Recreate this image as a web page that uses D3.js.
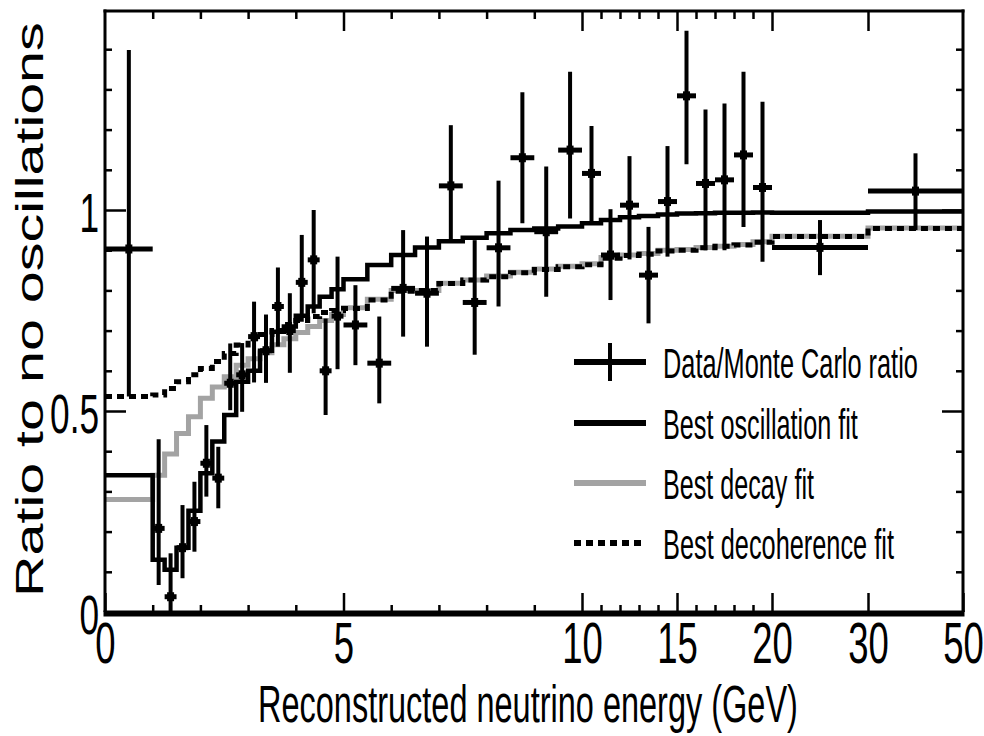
<!DOCTYPE html>
<html>
<head>
<meta charset="utf-8">
<script src="https://cdn.jsdelivr.net/npm/d3@7"></script>
<style>
  html, body { margin: 0; padding: 0; background: #fff; }
  svg { display: block; font-family: "Liberation Sans", Arial, Helvetica, sans-serif; }
</style>
</head>
<body>
<div id="chart"></div>
<script>
// variable energy binning (GeV)
const binEdges = [0, 1, 1.25, 1.5, 1.75, 2, 2.25, 2.5, 2.75, 3, 3.25, 3.5, 3.75, 4, 4.25, 4.5, 4.75, 5,
  5.5, 6, 6.5, 7, 7.5, 8, 8.5, 9, 9.5, 10, 11, 12, 13, 14, 15, 16, 17, 18, 19, 20, 30, 50];

// data / MC ratio with the ends of its error bars
const ratio = [0.903, 0.208, 0.038, 0.16, 0.225, 0.37, 0.333, 0.569, 0.59, 0.685, 0.65, 0.76, 0.70, 0.82, 0.876, 0.60, 0.736,
  0.714, 0.619, 0.805, 0.793, 1.06, 0.77, 0.906, 1.13, 0.946, 1.149,
  1.091, 0.888, 1.012, 0.838, 1.021, 1.284, 1.066, 1.075, 1.137, 1.056, 0.907, 1.047];
const ratioHi = [1.398, 0.43, 0.146, 0.266, 0.324, 0.465, 0.411, 0.668, 0.669, 0.772, 0.74, 0.857, 0.793, 0.938, 1.0, 0.73, 0.884,
  0.813, 0.735, 0.95, 0.934, 1.211, 0.925, 1.073, 1.293, 1.108, 1.344,
  1.209, 1.002, 1.134, 0.958, 1.159, 1.446, 1.25, 1.265, 1.344, 1.269, 0.975, 1.141];
const ratioLo = [0.536, 0.067, 0.0, 0.084, 0.15, 0.287, 0.258, 0.502, 0.498, 0.571, 0.57, 0.66, 0.595, 0.722, 0.743, 0.49, 0.604,
  0.614, 0.519, 0.685, 0.66, 0.921, 0.64, 0.76, 0.967, 0.784, 0.979,
  0.971, 0.776, 0.877, 0.718, 0.884, 1.114, 0.9, 0.9, 0.958, 0.871, 0.838, 0.95];

// best fits, one value per bin
const oscFit = [0.34, 0.13, 0.105, 0.16, 0.252, 0.345, 0.424, 0.49, 0.573, 0.60, 0.65, 0.697, 0.71, 0.737, 0.76, 0.784, 0.803,
  0.828, 0.863, 0.888, 0.907, 0.922, 0.931, 0.942, 0.95, 0.954, 0.959,
  0.967, 0.975, 0.982, 0.985, 0.989, 0.991, 0.992, 0.993, 0.993, 0.994, 0.993, 0.996];
const decayFit = [0.28, 0.34, 0.393, 0.444, 0.486, 0.532, 0.56, 0.585, 0.614, 0.63, 0.645, 0.665, 0.68, 0.695, 0.71, 0.725, 0.74,
  0.757, 0.778, 0.80, 0.80, 0.818, 0.826, 0.836, 0.845, 0.853, 0.86,
  0.866, 0.882, 0.888, 0.892, 0.90, 0.902, 0.907, 0.91, 0.914, 0.921, 0.935, 0.955];
const decohFit = [0.536, 0.54, 0.556, 0.573, 0.59, 0.606, 0.623, 0.643, 0.664, 0.68, 0.69, 0.70, 0.715, 0.725, 0.735, 0.745, 0.75,
  0.755, 0.776, 0.798, 0.80, 0.817, 0.826, 0.834, 0.844, 0.852, 0.859,
  0.864, 0.88, 0.887, 0.89, 0.898, 0.90, 0.906, 0.91, 0.913, 0.92, 0.934, 0.954];

const xMajorTicks = [0, 5, 10, 15, 20, 30, 50];
const xMinorTicks = [1, 2, 3, 4, 6, 7, 8, 9, 11, 12, 13, 14, 16, 17, 18, 19];
const yMajorTicks = [0, 0.5, 1];
const yMinorTicks = [0.1, 0.2, 0.3, 0.4, 0.6, 0.7, 0.8, 0.9, 1.1, 1.2, 1.3, 1.4];

const legendLabels = ['Data/Monte Carlo ratio', 'Best oscillation fit', 'Best decay fit', 'Best decoherence fit'];

const W = 984, H = 736;
const plotLeft = 105, plotRight = 963, plotTop = 11, plotBottom = 612;
const squash = 0.64;   // the original figure is stretched vertically

const svg = d3.select('#chart').append('svg')
  .attr('width', W)
  .attr('height', H);

// x axis: piecewise linear (0-10, 10-20, 20-30, 30-50)
const x = d3.scaleLinear()
  .domain([0, 10, 20, 30, 50])
  .range([plotLeft, 582, 772, 868, plotRight]);

const y = d3.scaleLinear()
  .domain([0, 1.5])
  .range([plotBottom, plotBottom - 603]);

// squeeze a text to a given width with a transform, anchored at its start
function fitText(sel, px, py, width, rotate) {
  sel.each(function () {
    const natural = this.getComputedTextLength();
    const sx = width / natural;
    d3.select(this)
      .attr('x', 0).attr('y', 0)
      .attr('transform', `translate(${px},${py})${rotate ? ' rotate(-90)' : ''} scale(${sx},1)`);
  });
}

// step histograms
const stepPts = vals => binEdges.map((e, i) => [e, vals[Math.min(i, vals.length - 1)]]);
const step = d3.line()
  .x(d => x(d[0]))
  .y(d => y(d[1]))
  .curve(d3.curveStepAfter);

const fits = svg.append('g').attr('fill', 'none');

fits.append('path')
  .attr('d', step(stepPts(decayFit)))
  .attr('stroke', '#a3a3a3')
  .attr('stroke-width', 5);

fits.append('path')
  .attr('d', step(stepPts(decohFit)))
  .attr('stroke', '#000')
  .attr('stroke-width', 5)
  .attr('stroke-dasharray', '7,5');

fits.append('path')
  .attr('d', step(stepPts(oscFit)))
  .attr('stroke', '#000')
  .attr('stroke-width', 4.5);

// data points
const pts = ratio.map((v, i) => ({
  v, hi: ratioHi[i], lo: ratioLo[i],
  x0: binEdges[i], x1: binEdges[i + 1], xc: (binEdges[i] + binEdges[i + 1]) / 2
}));

const dataG = svg.append('g');

dataG.selectAll('.ebar')
  .data(pts)
  .join('line')
  .attr('class', 'ebar')
  .attr('x1', d => x(d.xc)).attr('x2', d => x(d.xc))
  .attr('y1', d => y(d.hi)).attr('y2', d => y(d.lo))
  .attr('stroke', '#000')
  .attr('stroke-width', 4);

dataG.selectAll('.xbar')
  .data(pts)
  .join('line')
  .attr('class', 'xbar')
  .attr('x1', d => x(d.x0)).attr('x2', d => x(d.x1))
  .attr('y1', d => y(d.v)).attr('y2', d => y(d.v))
  .attr('stroke', '#000')
  .attr('stroke-width', 5);

dataG.selectAll('.marker')
  .data(pts)
  .join('rect')
  .attr('class', 'marker')
  .attr('x', d => x(d.xc) - 3.5)
  .attr('y', d => y(d.v) - 4.5)
  .attr('width', 7)
  .attr('height', 9)
  .attr('fill', '#000');

// axes (ticks inward, labels squashed like the original)
function styleTicks(g) {
  g.select('.domain').remove();
  g.attr('font-family', null).attr('font-size', null);
  g.selectAll('.tick line').attr('stroke', '#000').attr('stroke-width', 2.5);
}

svg.append('g')
  .attr('transform', `translate(0,${plotBottom})`)
  .call(d3.axisBottom(x).tickValues(xMinorTicks).tickSize(-7).tickFormat(''))
  .call(styleTicks);

svg.append('g')
  .attr('transform', `translate(0,${plotBottom})`)
  .call(d3.axisBottom(x).tickValues(xMajorTicks).tickSize(-19).tickFormat(d3.format('d')))
  .call(styleTicks)
  .call(g => g.selectAll('.tick text')
    .attr('y', 51).attr('dy', null)
    .attr('fill', '#000')
    .attr('font-size', 57)
    .attr('transform', `scale(${squash},1)`));

svg.append('g')
  .attr('transform', `translate(0,${plotTop})`)
  .call(d3.axisTop(x).tickValues(xMinorTicks).tickSize(-8).tickFormat(''))
  .call(styleTicks);

svg.append('g')
  .attr('transform', `translate(0,${plotTop})`)
  .call(d3.axisTop(x).tickValues(xMajorTicks.slice(1, -1)).tickSize(-20).tickFormat(''))
  .call(styleTicks);

svg.append('g')
  .attr('transform', `translate(${plotLeft},0)`)
  .call(d3.axisLeft(y).tickValues(yMinorTicks).tickSize(-7).tickFormat(''))
  .call(styleTicks);

svg.append('g')
  .attr('transform', `translate(${plotLeft},0)`)
  .call(d3.axisLeft(y).tickValues(yMajorTicks).tickSize(-21).tickFormat(d => String(d)))
  .call(styleTicks)
  .call(g => g.selectAll('.tick text')
    .attr('x', -6 / squash).attr('y', 21).attr('dy', null)
    .attr('fill', '#000')
    .attr('font-size', 55)
    .attr('transform', `scale(${squash},1)`));

svg.append('g')
  .attr('transform', `translate(${plotRight},0)`)
  .call(d3.axisRight(y).tickValues(yMinorTicks).tickSize(-7).tickFormat(''))
  .call(styleTicks);

svg.append('g')
  .attr('transform', `translate(${plotRight},0)`)
  .call(d3.axisRight(y).tickValues(yMajorTicks.slice(1)).tickSize(-21).tickFormat(''))
  .call(styleTicks);

// frame
const frame = svg.append('g').attr('stroke', '#000').attr('fill', 'none');
frame.append('line').attr('x1', plotLeft).attr('x2', plotLeft).attr('y1', plotTop - 1.5).attr('y2', plotBottom).attr('stroke-width', 3);
frame.append('line').attr('x1', plotRight).attr('x2', plotRight).attr('y1', plotTop - 1.5).attr('y2', plotBottom).attr('stroke-width', 3);
frame.append('line').attr('x1', plotLeft - 1.5).attr('x2', plotRight + 1.5).attr('y1', plotTop).attr('y2', plotTop).attr('stroke-width', 3);
frame.append('line').attr('x1', plotLeft - 1.5).attr('x2', plotRight + 1.5).attr('y1', plotBottom + 1.5).attr('y2', plotBottom + 1.5).attr('stroke-width', 6);

// axis titles
svg.append('text')
  .attr('font-size', 51)
  .text('Reconstructed neutrino energy (GeV)')
  .call(fitText, 258, 722, 540, false);

svg.append('text')
  .attr('font-size', 39)
  .text('Ratio to no oscillations')
  .call(fitText, 43, 597, 575, true);

// legend
const legX0 = 574, legX1 = 646, legTextX = 663;
const legRowY = [362, 423, 483, 543];
const legTextLen = [255, 195, 151, 231];
const leg = svg.append('g');

leg.append('line').attr('x1', legX0).attr('x2', legX1).attr('y1', legRowY[0]).attr('y2', legRowY[0])
  .attr('stroke', '#000').attr('stroke-width', 6);
leg.append('line').attr('x1', 610).attr('x2', 610).attr('y1', legRowY[0] - 19).attr('y2', legRowY[0] + 19)
  .attr('stroke', '#000').attr('stroke-width', 4);
leg.append('line').attr('x1', legX0).attr('x2', legX1).attr('y1', legRowY[1]).attr('y2', legRowY[1])
  .attr('stroke', '#000').attr('stroke-width', 6);
leg.append('line').attr('x1', legX0).attr('x2', legX1).attr('y1', legRowY[2]).attr('y2', legRowY[2])
  .attr('stroke', '#a3a3a3').attr('stroke-width', 6);
leg.append('line').attr('x1', legX0).attr('x2', legX1).attr('y1', legRowY[3]).attr('y2', legRowY[3])
  .attr('stroke', '#000').attr('stroke-width', 6).attr('stroke-dasharray', '7,5');

legendLabels.forEach((label, i) => {
  leg.append('text')
    .attr('font-size', 42)
    .text(label)
    .call(fitText, legTextX, legRowY[i] + 16, legTextLen[i], false);
});
</script>
</body>
</html>
